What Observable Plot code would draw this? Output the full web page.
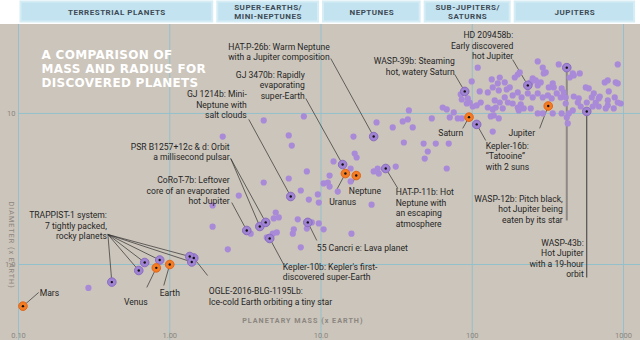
<!DOCTYPE html>
<html><head><meta charset="utf-8">
<script src="https://cdn.jsdelivr.net/npm/d3@7"></script>
<script src="https://cdn.jsdelivr.net/npm/@observablehq/plot@0.6"></script>
<style>
body{margin:0;background:#fff;}
#chart{width:640px;height:340px;overflow:hidden;}
#chart svg{display:block;}
</style>
</head><body><div id="chart"></div>
<script>
// ---- data ----
const classNames = ["TERRESTRIAL PLANETS","SUPER-EARTHS/\nMINI-NEPTUNES","NEPTUNES","SUB-JUPITERS/\nSATURNS","JUPITERS"];
const classBounds = [0.1, 2, 10, 47, 185, 1230];

const xTicks = [0.1, 1, 10, 100, 1000];
const xTickLabels = ["0.10", "1.00", "10.0", "100", "1000"];
const yTicks = [1, 10];
const yTickLabels = ["1.0", "10"];

const titleText = "A COMPARISON OF\nMASS AND RADIUS FOR\nDISCOVERED PLANETS";
const xTitle = "PLANETARY MASS (x EARTH)";
const yTitle = "DIAMETER (x EARTH)";

// [mass, diameter] of exoplanets (x Earth)
const exoplanets = [
[0.29,0.70],[1.92,1.78],[2.42,1.26],[3.43,1.60],[4.87,2.02],[5.26,2.05],[5.02,2.21],[4.38,1.51],[4.80,1.60],[5.10,1.63],
[6.51,1.60],[6.61,1.71],[7.02,1.99],[7.35,1.30],[8.69,1.90],[8.06,1.73],[9.67,1.87],[10.4,1.71],[15.9,1.60],[2.24,7.03],
[4.18,8.99],[6.12,7.15],[6.41,6.13],[8.06,4.13],[6.12,3.71],[4.18,3.49],[2.86,2.86],[1.92,2.46],[7.35,3.09],[9.53,2.91],
[8.31,2.69],[9.67,2.57],[7.70,9.55],[23.3,8.72],[29.8,8.08],[34.7,8.85],[40.4,8.08],[37.5,9.13],[38.1,10.47],[16.4,7.03],
[16.7,5.43],[17.2,5.11],[12.1,4.81],[15.7,4.32],[11.4,3.88],[10.4,3.44],[11.1,3.49],[11.4,3.28],[12.9,3.04],[15.7,3.55],
[21.6,2.49],[22.3,4.13],[23.7,4.32],[24.1,4.00],[31.2,4.45],[35.3,6.42],[47.7,6.32],[57.4,6.32],[69.9,6.32],[50.8,5.60],
[48.5,5.03],[67.8,4.32],[136.6,7.59],[428,8.59],[54.0,9.27],[63.8,10.95],[67.8,10.63],[75.5,10.16],[71.0,9.41],[80.2,9.27],
[85.2,9.27],[83.9,13.36],[85.2,12.37],[93.4,12.57],[96.2,11.82],[92.0,11.64],[99.2,16.3],[108.7,20.1],[112,13.99],[100.7,11.12],
[107,11.30],[113.8,11.82],[126.7,10.95],[138.7,9.70],[149.7,9.27],[134.5,16.8],[147.5,15.8],[152,17.3],[164,16.05],[149.7,14.20],
[169,14.42],[177,14.87],[200,18.1],[191,17.3],[206,18.7],[251,17.05],[263,16.55],[243.6,16.05],[271,15.34],[283.7,16.05],
[297,18.4],[292.5,20.1],[306,18.7],[340.5,15.8],[346,14.87],[320.6,14.87],[390,14.64],[462,18.4],[514,18.4],[271,22.1],
[373,21.1],[916,21.1],[441,17.3],[469,17.86],[164,12.76],[185,13.16],[200,13.77],[212,12.76],[233,13.56],[251,12.76],
[271,13.56],[292.5,12.76],[316,13.16],[335,12.57],[384.6,12.76],[415,11.64],[136.6,14.87],[126.7,13.77],[140.8,12.19],[152,11.82],
[172,11.82],[185,11.64],[200,10.95],[219,10.79],[203,10.47],[143,10.95],[136.6,10.63],[271,10.0],[292.5,10.0],[421.6,9.41],
[462,10.47],[498.5,11.82],[563,14.87],[589,14.64],[571.6,11.82],[616.6,12.76],[636,13.56],[686,12.57],[751.6,16.05],[787,16.55],
[888.5,16.05],[916,15.8],[799,13.99],[787,12.19],[875,12.76],[916,11.82],[958.7,11.64],[787,11.30],[862,10.79],[697,12.95],
[655,11.82],[686,11.12],[763,10.79],[626,11.12],[521.5,11.12],[362,13.56],[403,13.77],[415,12.76],[469,12.95],[506,12.57],
[390,10.0],[340.5,10.0],[243.6,10.79],[209.2,11.47],[159,10.79],[132.5,9.55],[435,10.0]
];

// highlighted exoplanets: name, [mass, diameter], leader end [mass, diameter]
const notableNames = ["HAT-P-26b","GJ 3470b","GJ 1214b","PSR B1257+12c","PSR B1257+12d","CoRoT-7b","55 Cancri e","Kepler-10b","HAT-P-11b","WASP-39b","HD 209458b","WASP-12b","WASP-43b","Kepler-16b","OGLE-2016-BLG-1195Lb","TRAPPIST-1 (1)","TRAPPIST-1 (2)","TRAPPIST-1 (3)","TRAPPIST-1 (4)","TRAPPIST-1 (5)","TRAPPIST-1 (6)"];
const notableValues = [[22.3,7.03],[13.9,4.59],[6.31,2.82],[3.94,1.785],[4.31,1.90],[3.23,1.68],[8.18,1.90],[4.58,1.487],[26.8,4.32],[89.2,13.99],[233,15.34],[421.6,20.1],[571.6,10.31],[107,8.46],[1.442,1.104],[0.414,0.765],[0.624,0.913],[0.683,1.031],[0.858,1.071],[1.356,1.13],[1.398,1.039]];
const notableLeaderEnds = [[11.6,23.1],[7.93,12.57],[3.33,9.13],[2.53,5.03],[2.53,5.03],[2.57,2.57],[9.38,1.442],[5.67,1.0],[32.2,3.19],[76.6,18.13],[185,22.7],[421.6,1.956],[571.6,0.82],[122.8,6.62],[1.78,0.845],[0.39,1.58],[0.39,1.58],[0.39,1.58],[0.39,1.58],[0.39,1.58],[0.39,1.58]];

// solar-system planets
const solarNames = ["Mars","Venus","Earth","Uranus","Neptune","Saturn","Jupiter"];
const solarValues = [[0.107,0.53],[0.815,0.95],[1,1],[14.5,4.0],[17.1,3.88],[95.2,9.45],[318,11.2]];
const solarLeaderEnds = [[0.136,0.653],[0.705,0.705],[0.913,0.726],[12.5,3.04],[16.2,3.49],[86.5,7.96],[279,7.96]];

// annotation texts, anchors [mass, diameter], alignment
const labelTexts = [
"HAT-P-26b: Warm Neptune\nwith a Jupiter composition",
"GJ 3470b: Rapidly\nevaporating\nsuper-Earth",
"GJ 1214b: Mini-\nNeptune with\nsalt clouds",
"PSR B1257+12c & d: Orbit\na millisecond pulsar",
"CoRoT-7b: Leftover\ncore of an evaporated\nhot Jupiter",
"TRAPPIST-1 system:\n7 tightly packed,\nrocky planets",
"Mars","Venus","Earth",
"OGLE-2016-BLG-1195Lb:\nIce-cold Earth orbiting a tiny star",
"Kepler-10b: Kepler's first-\ndiscovered super-Earth",
"55 Cancri e: Lava planet",
"Uranus","Neptune",
"HAT-P-11b: Hot\nNeptune with\nan escaping\natmosphere",
"Saturn","Jupiter",
"Kepler-16b:\n\u201CTatooine\u201D\nwith 2 suns",
"WASP-12b: Pitch black,\nhot Jupiter being\neaten by its star",
"WASP-43b:\nHot Jupiter\nwith a 19-hour\norbit",
"WASP-39b: Steaming\nhot, watery Saturn",
"HD 209458b:\nEarly discovered\nhot Jupiter"
];
const labelPositions = [[11.42,29.6],[7.81,19.3],[3.23,14.3],[2.49,6.42],[2.49,3.86],[0.384,2.27],[0.138,0.692],[0.596,0.605],[1.0,0.692],[1.81,0.711],[5.59,1.031],[9.38,1.384],[13.9,2.78],[15.26,3.29],[31.2,3.23],[72.1,8.0],[212.4,8.0],[122.8,6.52],[396.5,2.92],[546,1.49],[76.6,23.7],[186.7,35.3]];
const labelAlign = ["end","end","end","end","end","end","start","middle","middle","start","start","start","middle","start","start","middle","middle","start","end","end","end","end"];

// ---- colors ----
const BG = "#ccc5bb", GRID = "#93c0cb", PURPLE = "#a98ad8", ORANGE = "#f47c22", INK = "#262626", AXIS = "#8b8680";

// ---- build tables ----
const classes = classNames.map((name, i) => ({name, lo: classBounds[i], hi: classBounds[i + 1]}));
const exo = exoplanets.map(([m, d]) => ({m, d}));
const notable = notableNames.map((name, i) => ({name, m: notableValues[i][0], d: notableValues[i][1], m2: notableLeaderEnds[i][0], d2: notableLeaderEnds[i][1]}));
const solar = solarNames.map((name, i) => ({name, m: solarValues[i][0], d: solarValues[i][1], m2: solarLeaderEnds[i][0], d2: solarLeaderEnds[i][1]}));
const labels = labelTexts.map((text, i) => ({text, m: labelPositions[i][0], d: labelPositions[i][1], align: labelAlign[i]}));
const thinLeaders = notable.filter(p => p.name !== "WASP-12b" && p.name !== "WASP-43b").concat(solar);

const xOpts = {type: "log", domain: [0.1, 1000], axis: null};
const FONT = "Roboto, 'Open Sans', sans-serif";

// ---- header band ----
const header = Plot.plot({
  width: 640, height: 24, marginLeft: 18, marginRight: 17, marginTop: 0, marginBottom: 0,
  x: xOpts,
  style: {background: "#fff", fontFamily: FONT, overflow: "visible"},
  marks: [
    Plot.rect(classes, {x1: "lo", x2: "hi", fill: "#c3e3f0", stroke: "#d6edf6", strokeWidth: 2, insetLeft: 2.5, insetRight: 2.5, insetTop: 1.5, insetBottom: 2.5, ariaDescription: "boxes"}),
    Plot.text(classes, {x: d => Math.sqrt(d.lo * d.hi), text: "name", frameAnchor: "middle", dy: -1, fontSize: 8, fontWeight: 700, lineHeight: 1.2, fill: "#3e4a55", ariaDescription: "classes"})
  ]
});

// ---- main chart ----
const main = Plot.plot({
  width: 640, height: 316, marginLeft: 18, marginRight: 17, marginTop: 0, marginBottom: 0,
  x: xOpts,
  y: {type: "log", domain: [0.314, 38.8], axis: null},
  style: {background: BG, fontFamily: FONT, overflow: "hidden"},
  marks: [
    Plot.ruleX(xTicks, {stroke: GRID, strokeWidth: 1}),
    Plot.ruleY(yTicks, {x1: 0.1, x2: 1300, stroke: GRID, strokeWidth: 1}),
    Plot.text(xTicks, {x: d => d, text: (d, i) => xTickLabels[i], frameAnchor: "bottom", lineAnchor: "bottom", dy: -3, fontSize: 7.5, fill: AXIS}),
    Plot.text(yTicks, {y: d => d, text: (d, i) => yTickLabels[i], frameAnchor: "left", textAnchor: "end", dx: -3, fontSize: 7.5, fill: AXIS}),
    Plot.text([xTitle], {x: 7.58, frameAnchor: "bottom", lineAnchor: "middle", dy: -20, fontSize: 7.2, fontWeight: 700, fill: AXIS, ariaDescription: "axistitle"}),
    Plot.text([yTitle], {y: 2.61, frameAnchor: "left", dx: -7, rotate: 90, fontSize: 7.2, fill: AXIS, ariaDescription: "axistitle"}),
    Plot.text([titleText], {frameAnchor: "top-left", dx: 23, dy: 24, lineAnchor: "top", fontSize: 12, fontWeight: 700, lineHeight: 1.18, fill: "#fff", fontFamily: "'DejaVu Sans', sans-serif", ariaDescription: "title"}),
    // leader lines
    Plot.link(thinLeaders, {x1: "m", y1: "d", x2: "m2", y2: "d2", stroke: "#2f2f2f", strokeWidth: 0.7}),
    Plot.link(notable.filter(p => p.name === "WASP-12b"), {x1: "m", y1: "d", x2: "m2", y2: "d2", stroke: "#8d8985", strokeWidth: 2}),
    Plot.link(notable.filter(p => p.name === "WASP-43b"), {x1: "m", y1: "d", x2: "m2", y2: "d2", stroke: "#3a3a3a", strokeWidth: 1}),
    // points
    Plot.dot(exo, {x: "m", y: "d", r: 3.1, fill: PURPLE}),
    Plot.dot(notable, {x: "m", y: "d", r: 4.3, fill: "#a083d3", stroke: "#8a6dc0", strokeWidth: 1}),
    Plot.dot(solar, {x: "m", y: "d", r: 4.3, fill: ORANGE, stroke: "#e2651a", strokeWidth: 1}),
    Plot.dot(notable.concat(solar), {x: "m", y: "d", r: 1.2, fill: "#111"}),
    // annotations
    ...["start", "middle", "end"].map(a => Plot.text(labels.filter(l => l.align === a), {x: "m", y: "d", text: "text", textAnchor: a, lineAnchor: "top", fontSize: 8.6, lineHeight: 1.22, fill: INK}))
  ]
});

const chart = document.getElementById("chart");
chart.append(header, main);

d3.select(header).selectAll('g[aria-description="classes"]').style("letter-spacing", "0.5px");
d3.select(header).selectAll('g[aria-description="boxes"]').style("filter", "blur(0.6px)");
d3.select(main).selectAll('g[aria-description="title"]').style("letter-spacing", "0.3px");
d3.select(main).selectAll('g[aria-description="axistitle"]').style("letter-spacing", "1px");
</script>
</body></html>
